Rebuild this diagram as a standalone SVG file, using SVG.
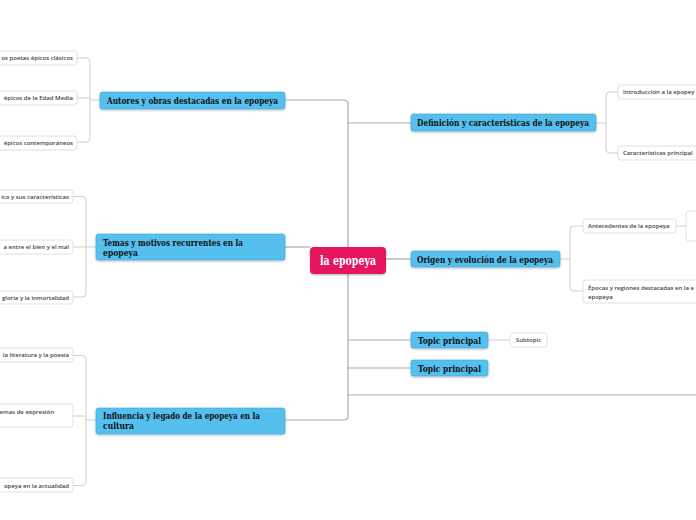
<svg xmlns="http://www.w3.org/2000/svg" width="696" height="520" viewBox="0 0 696 520">
<defs>
<filter id="sh" x="-10%" y="-30%" width="120%" height="170%">
<feDropShadow dx="0" dy="1" stdDeviation="0.8" flood-color="#000" flood-opacity="0.3"/>
</filter>
<style>
.topic rect{fill:#54bfee;stroke:#3fa9dc;stroke-width:0.6;filter:url(#sh)}
.topic text{font-family:"DejaVu Serif","Liberation Serif",serif;font-weight:bold;font-size:10px;fill:#111}
.central rect{fill:#e5195f;filter:url(#sh)}
.central text{font-family:"DejaVu Serif","Liberation Serif",serif;font-weight:bold;font-size:12px;fill:#fff}
.sub rect{fill:#fff;stroke:#d8d8d8;stroke-width:0.8}
.sub text{font-family:"Open Sans","Liberation Sans",sans-serif;font-size:6px;font-weight:600;fill:#444}
.main{fill:none;stroke:#a9a9a9;stroke-width:1.2}
.minor{fill:none;stroke:#cfcfcf;stroke-width:1}
</style>
</defs>
<rect width="696" height="520" fill="#fff"/>
<g id="connectors">
<path class="main" d="M285,100 H344 Q348,100 348,104 V416 Q348,420 344,420 H285"/>
<path class="main" d="M348,123 H411"/>
<path class="main" d="M285,247 H310"/>
<path class="main" d="M386,259 H411"/>
<path class="main" d="M348,340 H411"/>
<path class="main" d="M348,368 H411"/>
<path class="main" d="M348,395 H696"/>
<path class="minor" d="M100,100 H90 M77,58 H86 Q90,58 90,62 V138 Q90,142 86,142 H77 M77,98 H90"/>
<path class="minor" d="M96,247 H86 M73,196.5 H82 Q86,196.5 86,200.5 V293 Q86,297 82,297 H73 M73,247 H86"/>
<path class="minor" d="M96,420 H86 M73,355.5 H82 Q86,355.5 86,359.5 V481.5 Q86,485.5 82,485.5 H73 M73,416 H86"/>
<path class="minor" d="M596,123 H606 M618,92 H610 Q606,92 606,96 V149 Q606,153 610,153 H618"/>
<path class="minor" d="M560,259 H570 M583,226 H574 Q570,226 570,230 V287 Q570,291 574,291 H583"/>
<path class="minor" d="M676,226 H686"/>
<path class="minor" d="M488,340 H510"/>
</g>
<g id="central" class="central">
<rect x="310" y="247" width="76" height="27" rx="4"/>
<text x="320" y="264.5" textLength="56" lengthAdjust="spacingAndGlyphs">la epopeya</text>
</g>
<g id="autores" class="topic">
<rect x="100" y="92" width="185" height="17" rx="2.5"/>
<text x="107" y="104" textLength="171" lengthAdjust="spacingAndGlyphs">Autores y obras destacadas en la epopeya</text>
</g>
<g id="temas" class="topic">
<rect x="96" y="234" width="189" height="26" rx="2.5"/>
<text x="103" y="245.5" textLength="140" lengthAdjust="spacingAndGlyphs">Temas y motivos recurrentes en la</text>
<text x="103" y="256" textLength="35" lengthAdjust="spacingAndGlyphs">epopeya</text>
</g>
<g id="influencia" class="topic">
<rect x="96" y="408" width="189" height="26" rx="2.5"/>
<text x="103" y="418.5" textLength="157" lengthAdjust="spacingAndGlyphs">Influencia y legado de la epopeya en la</text>
<text x="103" y="429" textLength="31" lengthAdjust="spacingAndGlyphs">cultura</text>
</g>
<g id="definicion" class="topic">
<rect x="411" y="114" width="185" height="17" rx="2.5"/>
<text x="417" y="126" textLength="172" lengthAdjust="spacingAndGlyphs">Definición y caracteristicas de la epopeya</text>
</g>
<g id="origen" class="topic">
<rect x="411" y="251" width="149" height="16" rx="2.5"/>
<text x="417" y="262.5" textLength="136" lengthAdjust="spacingAndGlyphs">Origen y evolución de la epopeya</text>
</g>
<g id="topic1" class="topic">
<rect x="411" y="332" width="77" height="16" rx="2.5"/>
<text x="418" y="343.5" textLength="63" lengthAdjust="spacingAndGlyphs">Topic principal</text>
</g>
<g id="topic2" class="topic">
<rect x="411" y="360" width="77" height="16" rx="2.5"/>
<text x="418" y="371.5" textLength="63" lengthAdjust="spacingAndGlyphs">Topic principal</text>
</g>
<g id="a1" class="sub"><rect x="-40" y="51" width="117" height="14" rx="3"/><text x="73" y="60" text-anchor="end">os poetas épicos clásicos</text></g>
<g id="a2" class="sub"><rect x="-40" y="91" width="117" height="14" rx="3"/><text x="73" y="100" text-anchor="end">épicos de la Edad Media</text></g>
<g id="a3" class="sub"><rect x="-40" y="136" width="117" height="14" rx="3"/><text x="73" y="145" text-anchor="end">épicos contemporáneos</text></g>
<g id="t1" class="sub"><rect x="-40" y="190" width="113" height="13" rx="3"/><text x="69" y="198.5" text-anchor="end">ico y sus características</text></g>
<g id="t2" class="sub"><rect x="-40" y="240" width="113" height="14" rx="3"/><text x="69" y="249" text-anchor="end">a entre el bien y el mal</text></g>
<g id="t3" class="sub"><rect x="-40" y="291" width="113" height="13" rx="3"/><text x="69" y="299.5" text-anchor="end">gloria y la inmortalidad</text></g>
<g id="i1" class="sub"><rect x="-40" y="348" width="113" height="14" rx="3"/><text x="69" y="357" text-anchor="end">la literatura y la poesía</text></g>
<g id="i2" class="sub"><rect x="-40" y="404" width="113" height="23" rx="3"/><text x="54" y="413.5" text-anchor="end">emas de expresión</text></g>
<g id="i3" class="sub"><rect x="-40" y="478" width="113" height="14" rx="3"/><text x="69" y="487.5" text-anchor="end">opeya en la actualidad</text></g>
<g id="d1" class="sub"><rect x="618" y="85" width="100" height="14" rx="3"/><text x="623" y="94">Introducción a la epopey</text></g>
<g id="d2" class="sub"><rect x="618" y="146" width="100" height="14" rx="3"/><text x="623" y="155">Características principal</text></g>
<g id="o1" class="sub"><rect x="583" y="219" width="93" height="14" rx="3"/><text x="588" y="228">Antecedentes de la epopeya</text></g>
<g id="o1a" class="sub"><rect x="686" y="211" width="30" height="30" rx="3"/></g>
<g id="o2" class="sub"><rect x="583" y="280" width="130" height="23" rx="3"/><text x="588" y="289.5">Épocas y regiones destacadas en la e</text><text x="588" y="299">epopeya</text></g>
<g id="s1" class="sub"><rect x="510" y="333" width="37" height="14" rx="3"/><text x="528.5" y="342" text-anchor="middle">Subtopic</text></g>
</svg>
